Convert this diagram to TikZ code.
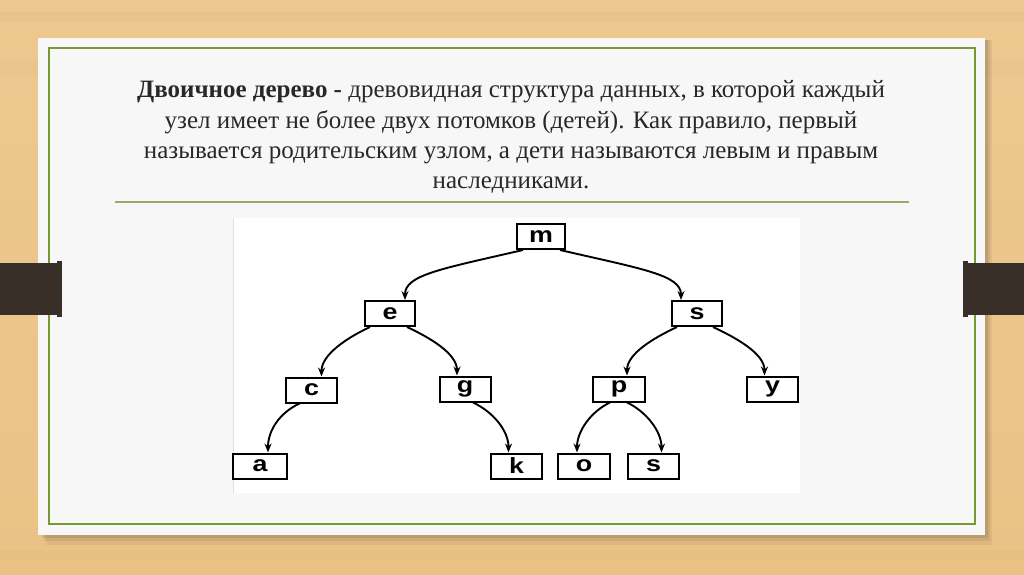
\documentclass[tikz,border=0pt]{standalone}
\usepackage{fontspec}
\usepackage{graphicx}
\setmainfont{Liberation Serif}
\newfontfamily\treefont{Liberation Sans}
\usetikzlibrary{arrows.meta,calc}
\definecolor{woodlight}{RGB}{236,200,144}
\definecolor{wooddark}{RGB}{234,194,134}
\definecolor{woodstreak}{RGB}{222,182,122}
\definecolor{card}{RGB}{247,247,247}
\definecolor{frame}{RGB}{122,152,50}
\definecolor{rule}{RGB}{155,170,100}
\definecolor{tab}{RGB}{56,47,41}
\definecolor{ink}{RGB}{40,40,40}
\tikzset{
  x=1pt,y=1pt,
  tnode/.style={draw=black,line width=2pt,minimum width=50pt,minimum height=25pt,inner sep=0pt,font=\treefont\bfseries\fontsize{22}{22}\selectfont},
  tedge/.style={line width=1.9pt,-{Stealth[length=9pt,width=7pt]}},
  bodytext/.style={anchor=base,inner sep=0pt,text=ink,font=\fontsize{25}{25}\selectfont}
}
\newcommand{\wide}[1]{\raisebox{-1pt}{\scalebox{1.22}[1]{#1}}}
\begin{document}
\begin{tikzpicture}
\useasboundingbox (0,0) rectangle (1024,-574);
% wood background
\shade[top color=woodlight,bottom color=wooddark] (0,0) rectangle (1024,-574);
\fill[woodstreak,opacity=0.25] (0,-12) rectangle (1024,-22);
\fill[woodstreak,opacity=0.15] (0,-60) rectangle (1024,-75);
\fill[woodstreak,opacity=0.2] (0,-550) rectangle (1024,-560);
% card shadow
\fill[black,opacity=0.05] (46,-40) rectangle (992,-545);
\fill[black,opacity=0.07] (44,-40) rectangle (990,-541);
\fill[black,opacity=0.08] (42,-40) rectangle (988,-538);
% card
\fill[card] (38,-38) rectangle (985,-535);
\draw[frame,line width=1.4pt] (49,-48) rectangle (975,-524);
% tabs
\fill[tab] (0,-263) rectangle (60,-315);
\fill[tab] (57,-261) rectangle (62,-317);
\fill[tab] (966,-263) rectangle (1024,-315);
\fill[tab] (963,-261) rectangle (968,-317);
% text
\node[bodytext] (t1) at (511,-97) {\textbf{Двоичное дерево -} древовидная структура данных, в которой каждый};
\node[bodytext] (t2) at (511,-128) {узел имеет не более двух потомков (детей). Как правило, первый};
\node[bodytext] (t3) at (511,-158) {называется родительским узлом, а дети называются левым и правым};
\node[bodytext] (t4) at (511,-188) {наследниками.};
\draw[rule,line width=1.6pt] (115,-202) -- (909,-202);
% tree image area
\fill[white] (233,-218) rectangle (800,-493);
\draw[black!12,line width=1pt] (233.5,-218) -- (233.5,-493);
% nodes
\node[tnode,minimum width=48pt] (m) at (541,-236.5) {\wide{m}};
\node[tnode] (e) at (390,-313.5) {\wide{e}};
\node[tnode] (s) at (697,-313.5) {\wide{s}};
\node[tnode,minimum width=51pt] (c) at (311.5,-390) {\wide{c}};
\node[tnode,minimum width=51pt] (g) at (465,-389) {\wide{g}};
\node[tnode,minimum width=52pt] (p) at (619,-389) {\wide{p}};
\node[tnode,minimum width=51pt] (y) at (772.5,-389) {\wide{y}};
\node[tnode,minimum width=54pt] (a) at (260,-466) {\wide{a}};
\node[tnode,minimum width=51pt] (k) at (516.5,-466) {\wide{k}};
\node[tnode,minimum width=52pt] (o) at (584,-466) {\wide{o}};
\node[tnode,minimum width=51pt] (s2) at (653.5,-466) {\wide{s}};
% edges
\draw[tedge] ([xshift=-18pt]m.south) to[out=193,in=90,out distance=85pt,in distance=25pt] ([xshift=15pt]e.north);
\draw[tedge] ([xshift=19pt]m.south) to[out=-13,in=90,out distance=85pt,in distance=25pt] ([xshift=-16pt]s.north);
\draw[tedge] ([xshift=-20pt]e.south) to[out=205,in=90,out distance=25pt,in distance=22pt] ([xshift=10pt]c.north);
\draw[tedge] ([xshift=17pt]e.south) to[out=-25,in=90,out distance=25pt,in distance=22pt] ([xshift=-8pt]g.north);
\draw[tedge] ([xshift=-12pt]c.south) to[out=205,in=90,out distance=22pt,in distance=22pt] ([xshift=8pt]a.north);
\draw[tedge] ([xshift=8pt]g.south) to[out=-25,in=90,out distance=22pt,in distance=22pt] ([xshift=-8pt]k.north);
\draw[tedge] ([xshift=-20pt]s.south) to[out=205,in=90,out distance=25pt,in distance=22pt] ([xshift=8pt]p.north);
\draw[tedge] ([xshift=16pt]s.south) to[out=-25,in=90,out distance=25pt,in distance=22pt] ([xshift=-8pt]y.north);
\draw[tedge] ([xshift=-9pt]p.south) to[out=205,in=90,out distance=20pt,in distance=22pt] ([xshift=-7pt]o.north);
\draw[tedge] ([xshift=8pt]p.south) to[out=-25,in=90,out distance=20pt,in distance=22pt] ([xshift=8pt]s2.north);
\end{tikzpicture}
\end{document}
